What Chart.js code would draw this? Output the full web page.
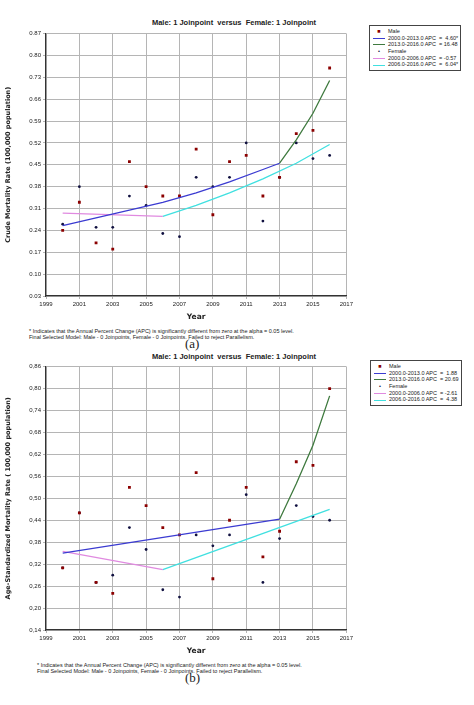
<!DOCTYPE html>
<html><head><meta charset="utf-8">
<script src="https://cdn.jsdelivr.net/npm/chart.js@4"></script>
<style>
body{margin:0;background:#fff;width:474px;height:705px;position:relative;font-family:"DejaVu Sans",sans-serif;overflow:hidden}
.t{position:absolute;font-weight:bold;font-size:7.5px;color:#222;white-space:nowrap;font-family:"Liberation Sans",sans-serif;width:300px;text-align:center}
.leg{position:absolute;border:1px solid #444;font-size:5.5px;color:#222;padding:2px 3px;width:84px;line-height:6.6px;font-family:"Liberation Sans",sans-serif}
.leg div{white-space:nowrap}
.sw{display:inline-block;width:12px;margin-right:3px;vertical-align:middle}
.fn{position:absolute;font-size:5.5px;color:#222;line-height:6px;font-family:"Liberation Sans",sans-serif;white-space:nowrap}
.cap{position:absolute;font-family:"Liberation Serif",serif;font-size:13px;color:#222}
canvas{position:absolute}
</style></head><body>
<div class="t" style="left:84px;top:18px">Male: 1 Joinpoint&nbsp; versus&nbsp; Female: 1 Joinpoint</div>
<div class="leg" style="left:369px;top:25px">
<div><span class="sw" style="text-align:center;color:#8b0000">■</span>Male</div>
<div><span class="sw" style="border-top:1.5px solid #3b3bd1"></span>2000.0-2013.0 APC &nbsp;= &nbsp;4.60*</div>
<div><span class="sw" style="border-top:1.5px solid #3f7a3f"></span>2013.0-2016.0 APC &nbsp;= 16.48</div>
<div><span class="sw" style="text-align:center;color:#101040">•</span>Female</div>
<div><span class="sw" style="border-top:1.5px solid #e08ae0"></span>2000.0-2006.0 APC &nbsp;= -0.57</div>
<div><span class="sw" style="border-top:1.5px solid #40e0e0"></span>2006.0-2016.0 APC &nbsp;= &nbsp;6.04*</div>
</div>
<canvas id="c1" style="left:0;top:28px;width:355px;height:298px" width="355" height="298"></canvas>
<div class="fn" style="left:29px;top:328px">* Indicates that the Annual Percent Change (APC) is significantly different from zero at the alpha = 0.05 level.<br>Final Selected Model: Male - 0 Joinpoints, Female - 0 Joinpoints. Failed to reject Parallelism.</div>
<div class="cap" style="left:185px;top:336px">(a)</div>

<div class="t" style="left:84px;top:352px">Male: 1 Joinpoint&nbsp; versus&nbsp; Female: 1 Joinpoint</div>
<div class="leg" style="left:370px;top:360px">
<div><span class="sw" style="text-align:center;color:#8b0000">■</span>Male</div>
<div><span class="sw" style="border-top:1.5px solid #3b3bd1"></span>2000.0-2013.0 APC &nbsp;= &nbsp;1.88</div>
<div><span class="sw" style="border-top:1.5px solid #3f7a3f"></span>2013.0-2016.0 APC &nbsp;= 20.69</div>
<div><span class="sw" style="text-align:center;color:#101040">•</span>Female</div>
<div><span class="sw" style="border-top:1.5px solid #e08ae0"></span>2000.0-2006.0 APC &nbsp;= -2.61</div>
<div><span class="sw" style="border-top:1.5px solid #40e0e0"></span>2006.0-2016.0 APC &nbsp;= &nbsp;4.38</div>
</div>
<canvas id="c2" style="left:0;top:361px;width:355px;height:299px" width="355" height="299"></canvas>
<div class="fn" style="left:37px;top:662px">* Indicates that the Annual Percent Change (APC) is significantly different from zero at the alpha = 0.05 level.<br>Final Selected Model: Male - 0 Joinpoints, Female - 0 Joinpoints. Failed to reject Parallelism.</div>
<div class="cap" style="left:185px;top:670px">(b)</div>
<script>
const years=[2000,2001,2002,2003,2004,2005,2006,2007,2008,2009,2010,2011,2012,2013,2014,2015,2016];
// Panel (a) crude
const maleA=[0.24,0.33,0.20,0.18,0.46,0.38,0.35,0.35,0.50,0.29,0.46,0.48,0.35,0.41,0.55,0.56,0.76];
const femaleA=[0.26,0.38,0.25,0.25,0.35,0.32,0.23,0.22,0.41,0.38,0.41,0.52,0.27,0.41,0.52,0.47,0.48];
const maleSeg1YearsA=[2000,2002,2004,2006,2008,2010,2012,2013];
const maleSeg1A=[0.255,0.28,0.305,0.33,0.36,0.395,0.435,0.455];
const maleSeg2YearsA=[2013,2014,2015,2016];
const maleSeg2A=[0.455,0.53,0.615,0.72];
const femSeg1YearsA=[2000,2006];
const femSeg1A=[0.295,0.285];
const femSeg2YearsA=[2006,2008,2010,2012,2014,2016];
const femSeg2A=[0.285,0.32,0.36,0.405,0.455,0.515];
const yTicksA=[0.03,0.10,0.17,0.24,0.31,0.38,0.45,0.52,0.59,0.66,0.73,0.80,0.87];
// Panel (b) age-standardized
const maleB=[0.31,0.46,0.27,0.24,0.53,0.48,0.42,0.40,0.57,0.28,0.44,0.53,0.34,0.41,0.60,0.59,0.80];
const femaleB=[0.31,0.46,0.27,0.29,0.42,0.36,0.25,0.23,0.40,0.37,0.40,0.51,0.27,0.39,0.48,0.45,0.44];
const maleSeg1YearsB=[2000,2013];
const maleSeg1B=[0.35,0.443];
const maleSeg2YearsB=[2013,2014,2015,2016];
const maleSeg2B=[0.443,0.54,0.645,0.78];
const femSeg1YearsB=[2000,2006];
const femSeg1B=[0.355,0.305];
const femSeg2YearsB=[2006,2016];
const femSeg2B=[0.305,0.47];
const yTicksB=[0.14,0.20,0.26,0.32,0.38,0.44,0.50,0.56,0.62,0.68,0.74,0.80,0.86];
const xTicks=[1999,2001,2003,2005,2007,2009,2011,2013,2015,2017];

const pts=(xs,ys)=>xs.map((x,i)=>({x,y:ys[i]}));
function make(id,m,f,m1x,m1,m2x,m2,f1x,f1,f2x,f2,yt,ytitle,dec){
  const ln=(d,c)=>({type:'line',data:d,borderColor:c,borderWidth:1.3,pointRadius:0,fill:false,tension:0});
  new Chart(document.getElementById(id),{
    type:'scatter',
    data:{datasets:[
      ln(pts(m1x,m1),'#3b3bd1'),ln(pts(m2x,m2),'#3f7a3f'),
      ln(pts(f1x,f1),'#e08ae0'),ln(pts(f2x,f2),'#40e0e0'),
      {data:pts(years,m),pointStyle:'rect',pointRadius:2,backgroundColor:'#8b0000',borderColor:'#8b0000',borderWidth:0},
      {data:pts(years,f),pointStyle:'circle',pointRadius:1.4,backgroundColor:'#101040',borderColor:'#101040',borderWidth:0}
    ]},
    options:{responsive:false,animation:false,devicePixelRatio:1,
      layout:{padding:{top:4,right:7,left:0,bottom:0}},
      plugins:{legend:{display:false},tooltip:{enabled:false}},
      scales:{
        x:{type:'linear',min:1999,max:2017,
          afterBuildTicks:a=>{a.ticks=xTicks.map(v=>({value:v}))},
          afterFit:a=>{a.height=30},
          grid:{color:'#b5b5b5',borderDash:[2,2],tickLength:3},border:{color:'#333',width:1.2},
          ticks:{font:{size:6,family:'Liberation Sans'},color:'#222',maxRotation:0,padding:2,callback:v=>String(v)},
          title:{display:true,text:'Year',font:{size:7.5,weight:'bold',family:'DejaVu Sans'},color:'#222',padding:{top:1}}},
        y:{min:yt[0],max:yt[yt.length-1],
          afterBuildTicks:a=>{a.ticks=yt.map(v=>({value:v}))},
          afterFit:a=>{a.width=46},
          grid:{color:'#b5b5b5',borderDash:[2,2],tickLength:3},border:{color:'#333',width:1.2},
          ticks:{font:{size:6,family:'Liberation Sans'},color:'#222',padding:2,callback:v=>v.toFixed(2).replace('.',dec)},
          title:{display:true,text:ytitle,font:{size:6.5,weight:'bold',family:'DejaVu Sans'},color:'#222',padding:{bottom:4}}}
      }}
  });
}
make('c1',maleA,femaleA,maleSeg1YearsA,maleSeg1A,maleSeg2YearsA,maleSeg2A,femSeg1YearsA,femSeg1A,femSeg2YearsA,femSeg2A,yTicksA,'Crude Mortality Rate (100,000 population)','.');
make('c2',maleB,femaleB,maleSeg1YearsB,maleSeg1B,maleSeg2YearsB,maleSeg2B,femSeg1YearsB,femSeg1B,femSeg2YearsB,femSeg2B,yTicksB,'Age-Standardized Mortality Rate ( 100,000 population)',',');
</script>
</body></html>
